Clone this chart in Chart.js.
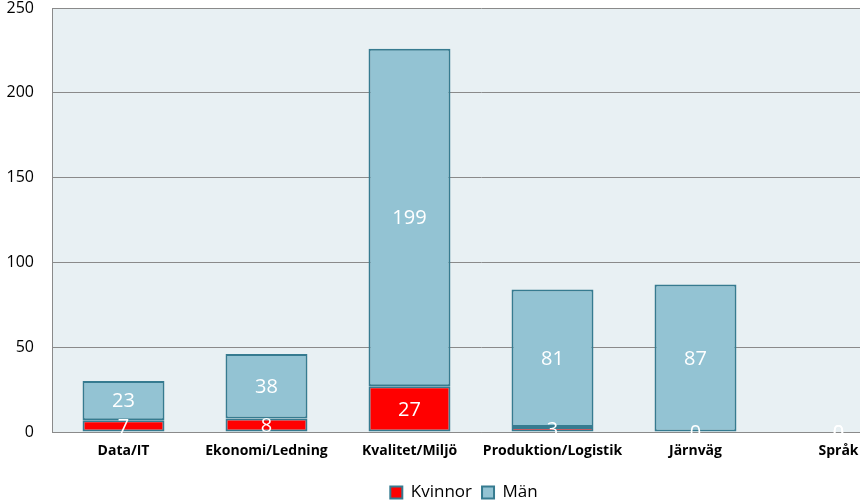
<!DOCTYPE html>
<html>
<head>
<meta charset="utf-8">
<script src="https://cdn.jsdelivr.net/npm/chart.js@4.4.1/dist/chart.umd.min.js"></script>
<style>
  html, body { margin: 0; padding: 0; background: #fff; overflow: hidden; }
  #wrap { position: relative; width: 928px; height: 501px; }
</style>
</head>
<body>
<div id="wrap"><canvas id="c"></canvas></div>
<script>
// Ämnesområden, antal per kön
const CATS = ['Data/IT', 'Ekonomi/Ledning', 'Kvalitet/Miljö', 'Produktion/Logistik', 'Järnväg', 'Språk'];
const KVINNOR = [7, 8, 27, 3, 0, 0];
const MAN = [23, 38, 199, 81, 87, 0];
const Y_TICKS = [0, 50, 100, 150, 200, 250];

const FONT = '"Open Sans", "Noto Sans", sans-serif';
const EDGE = '#367b90';
const PLOT_BG = '#e8f0f3';
const GRID = '#8a8a8a';

// Plot background behind everything inside the chart area.
const plotBg = {
  id: 'plotBg',
  beforeDraw(chart) {
    const a = chart.chartArea, c = chart.ctx;
    c.save(); c.fillStyle = PLOT_BG;
    c.fillRect(a.left, a.top, a.right - a.left, a.bottom - a.top);
    c.restore();
  }
};

// White value labels in the middle of each stacked segment.
const segLabels = {
  id: 'segLabels',
  afterDatasetsDraw(chart) {
    const c = chart.ctx;
    c.save();
    c.fillStyle = '#fff';
    c.font = '20px ' + FONT;
    c.textAlign = 'center'; c.textBaseline = 'middle';
    chart.data.datasets.forEach(function (ds, i) {
      chart.getDatasetMeta(i).data.forEach(function (el, j) {
        const p = el.getProps(['x', 'y', 'base'], true);
        c.fillText(String(ds.data[j]), p.x, (p.y + p.base) / 2 + 1);
      });
    });
    c.restore();
  }
};

new Chart(document.getElementById('c'), {
  type: 'bar',
  data: {
    labels: CATS,
    datasets: [
      { label: 'Kvinnor', data: KVINNOR, backgroundColor: '#ff0000', borderColor: EDGE, borderWidth: 2, borderSkipped: false,
        categoryPercentage: 1, barPercentage: 0.573 },
      { label: 'Män', data: MAN, backgroundColor: '#93c3d3', borderColor: EDGE, borderWidth: 2, borderSkipped: false,
        categoryPercentage: 1, barPercentage: 0.573 }
    ]
  },
  options: {
    responsive: true, maintainAspectRatio: false, animation: false,
    layout: { padding: { top: 0, right: 0, bottom: -10, left: 0 } },
    plugins: {
      tooltip: { enabled: false },
      legend: {
        position: 'bottom',
        labels: { font: { family: FONT, size: 17 }, color: '#000', boxWidth: 12, boxHeight: 12, padding: 10 }
      }
    },
    scales: {
      x: {
        stacked: true,
        grid: { display: false, drawTicks: false },
        border: { color: GRID, width: 1 },
        ticks: { color: '#000', font: { family: FONT, size: 14, weight: 'bold' }, padding: 11,
          maxRotation: 0, minRotation: 0, autoSkip: false },
        afterFit(s) { s.height = 42; s.paddingLeft = 0; s.paddingRight = 0; }
      },
      y: {
        stacked: true, min: 0, max: 250,
        afterBuildTicks(s) { s.ticks = Y_TICKS.map(function (v) { return { value: v }; }); },
        grid: { color: GRID, drawTicks: false },
        border: { color: GRID, width: 1 },
        ticks: { color: '#000', font: { family: FONT, size: 16 }, padding: 18 },
        afterFit(s) { s.width = 52; s.paddingTop = 8; s.paddingBottom = 0; }
      },
      yPad: {
        type: 'linear', axis: 'y', position: 'right', display: true,
        grid: { display: false }, border: { display: false }, ticks: { display: false },
        afterFit(s) { s.width = 18; s.paddingTop = 0; s.paddingBottom = 0; }
      }
    }
  },
  plugins: [plotBg, segLabels]
});
</script>
</body>
</html>
